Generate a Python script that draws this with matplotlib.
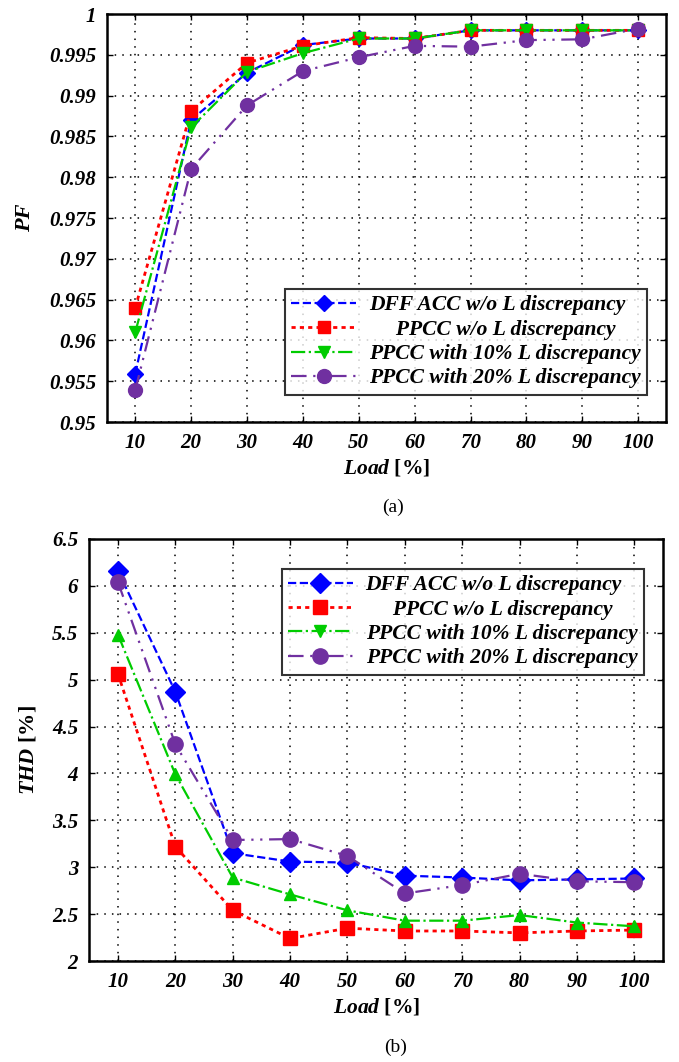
import matplotlib.pyplot as plt
from matplotlib.lines import Line2D

plt.rcParams['font.family'] = ['Liberation Serif', 'DejaVu Serif']
plt.rcParams['mathtext.fontset'] = 'custom'
plt.rcParams['mathtext.bfit'] = 'Liberation Serif:bold:italic'
plt.rcParams['mathtext.rm'] = 'Liberation Serif:bold'

load = [10, 20, 30, 40, 50, 60, 70, 80, 90, 100]

# power factor
pf_dff = [0.9559, 0.9870, 0.9928, 0.9962, 0.9970, 0.9970, 0.9980, 0.9980, 0.9980, 0.9980]
pf_ppcc = [0.9640, 0.9881, 0.9940, 0.9961, 0.9971, 0.9970, 0.9980, 0.9980, 0.9980, 0.9980]
pf_10 = [0.9610, 0.9861, 0.9929, 0.9952, 0.9970, 0.9970, 0.9980, 0.9980, 0.9980, 0.9980]
pf_20 = [0.9539, 0.9810, 0.9888, 0.9930, 0.9947, 0.9961, 0.9960, 0.9968, 0.9969, 0.9982]

# total harmonic distortion
thd_dff = [6.16, 4.87, 3.15, 3.06, 3.05, 2.91, 2.89, 2.86, 2.87, 2.88]
thd_ppcc = [5.06, 3.22, 2.54, 2.24, 2.35, 2.32, 2.32, 2.30, 2.32, 2.33]
thd_10 = [5.48, 3.99, 2.89, 2.71, 2.54, 2.43, 2.43, 2.49, 2.41, 2.37]
thd_20 = [6.04, 4.31, 3.29, 3.30, 3.12, 2.72, 2.81, 2.93, 2.85, 2.84]

labels = ['DFF ACC w/o L discrepancy',
          '     PPCC w/o L discrepancy',
          'PPCC with 10% L discrepancy',
          'PPCC with 20% L discrepancy']

blue = '#0000ff'
red = '#ff0000'
green = '#00cc00'
purple = '#7030a0'
dash_2dot = (0, (7, 3, 1, 3, 1, 3))
red_dot = (0, (1.5, 1.5))

bi = dict(fontweight='bold', fontstyle='italic')
legend_font = dict(family='Liberation Serif', size=15.5, weight='bold', style='italic')

fig = plt.figure(figsize=(6.79, 10.62), dpi=100)
ax1 = fig.add_axes([0.158, 0.6026, 0.823, 0.3842])
ax2 = fig.add_axes([0.1315, 0.0951, 0.845, 0.3974])


def style_axes(ax):
    ax.set_xlim(5, 105)
    ax.set_xticks(load)
    ax.grid(True, color='black', linestyle=(0, (1, 4)), linewidth=1.1)
    ax.tick_params(direction='in', top=True, right=True, length=4, width=1,
                   labelsize=15, pad=8)
    for lab in ax.get_xticklabels() + ax.get_yticklabels():
        lab.set_fontweight('bold')
        lab.set_fontstyle('italic')
    for sp in ax.spines.values():
        sp.set_linewidth(1.8)
    ax.set_xlabel(r'$\mathbfit{Load}$ [%]', fontsize=15.5, labelpad=3, fontweight='bold')


# (a) PF
ax1.plot(load, pf_dff, color=blue, ls='--', lw=1.6, marker='D', ms=8, label=labels[0])
ax1.plot(load, pf_ppcc, color=red, ls=red_dot, lw=2, marker='s', ms=9, label=labels[1])
ax1.plot(load, pf_10, color=green, ls='-.', lw=1.6, marker='v', ms=9, label=labels[2])
ax1.plot(load, pf_20, color=purple, ls=dash_2dot, lw=1.6, marker='o', ms=10, label=labels[3])
ax1.set_ylim(0.95, 1.0)
ax1.set_yticks([0.95, 0.955, 0.96, 0.965, 0.97, 0.975, 0.98, 0.985, 0.99, 0.995, 1.0])
ax1.set_yticklabels(['0.95', '0.955', '0.96', '0.965', '0.97', '0.975', '0.98',
                     '0.985', '0.99', '0.995', '1'])
style_axes(ax1)
ax1.set_ylabel('PF', fontsize=16, labelpad=10, **bi)
leg1 = ax1.legend(loc='lower right', bbox_to_anchor=(0.985, 0.04), frameon=True,
                  fancybox=False, edgecolor='black', handlelength=3.0,
                  prop=legend_font, borderpad=0.3, labelspacing=0.2, handletextpad=0.6)
leg1.get_frame().set_linewidth(1.5)
fig.text(0.579, 0.5226, '(a)', ha='center', va='center', fontsize=14)

# (b) THD
ax2.plot(load, thd_dff, color=blue, ls='--', lw=1.6, marker='D', ms=10)
ax2.plot(load, thd_ppcc, color=red, ls=red_dot, lw=2, marker='s', ms=10)
ax2.plot(load, thd_10, color=green, ls='-.', lw=1.6, marker='^', ms=9)
ax2.plot(load, thd_20, color=purple, ls=dash_2dot, lw=1.6, marker='o', ms=11)
ax2.set_ylim(2, 6.5)
ax2.set_yticks([2, 2.5, 3, 3.5, 4, 4.5, 5, 5.5, 6, 6.5])
ax2.set_yticklabels(['2', '2.5', '3', '3.5', '4', '4.5', '5', '5.5', '6', '6.5'])
style_axes(ax2)
ax2.set_ylabel(r'$\mathbfit{THD}$ [%]', fontsize=16, labelpad=10, fontweight='bold')

handles2 = [
    Line2D([], [], color=blue, ls='--', lw=1.6, marker='D', ms=10),
    Line2D([], [], color=red, ls=red_dot, lw=2, marker='s', ms=10),
    Line2D([], [], color=green, ls='-.', lw=1.6, marker='v', ms=9),
    Line2D([], [], color=purple, ls=dash_2dot, lw=1.6, marker='o', ms=11),
]
leg2 = ax2.legend(handles2, labels, loc='upper right', bbox_to_anchor=(0.985, 0.955),
                  frameon=True, fancybox=False, edgecolor='black', handlelength=3.0,
                  prop=legend_font, borderpad=0.3, labelspacing=0.2, handletextpad=0.6)
leg2.get_frame().set_linewidth(1.5)
fig.text(0.582, 0.014, '(b)', ha='center', va='center', fontsize=14)

fig.savefig('out.png', dpi=100)
